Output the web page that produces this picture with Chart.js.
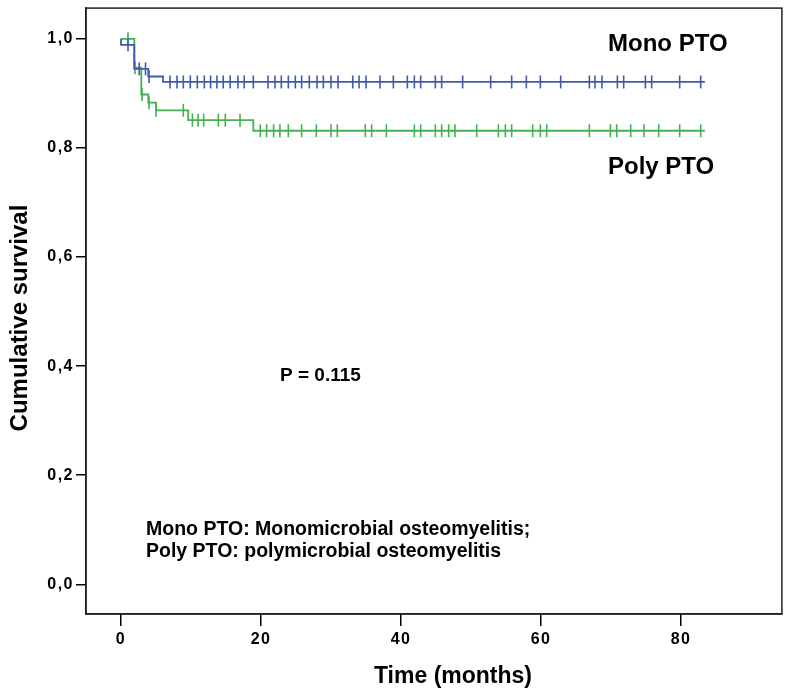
<!DOCTYPE html>
<html>
<head>
<meta charset="utf-8">
<script src="https://cdn.jsdelivr.net/npm/chart.js@4.4.1/dist/chart.umd.min.js"></script>
<style>
  html, body { margin: 0; padding: 0; background: #ffffff; }
  #wrap { width: 790px; height: 695px; }
</style>
</head>
<body>
<div id="wrap"><canvas id="c" width="790" height="695"></canvas></div>
<script>
// ---- data ----
const monoEventTimes = [0, 0, 1.9, 3.9, 6.0, 83.4];
const monoSurvival   = [1.0, 0.989, 0.945, 0.931, 0.921, 0.921];
const monoCensorTimes = [1.0, 2.6, 3.5, 4.0, 7, 8, 8.9, 9.9, 10.9, 11.9, 12.8, 13.7, 14.6, 15.6, 16.7, 17.6, 18.9,
  21, 22, 22.9, 23.9, 24.9, 25.8, 26.9, 28.0, 28.9, 30.0, 31.0, 33.1, 34.0, 35.0, 37.0, 38.9, 40.9, 41.9, 42.8,
  44.9, 45.8, 48.8, 52.8, 55.8, 57.9, 59.9, 62.8, 66.9, 67.7, 68.7, 70.9, 71.8, 74.9, 75.8, 79.8, 82.8];

const polyEventTimes = [0, 1.9, 2.9, 3.9, 5.0, 9.6, 18.9, 83.4];
const polySurvival   = [1.0, 0.947, 0.898, 0.883, 0.869, 0.851, 0.8315, 0.8315];
const polyCensorTimes = [1.0, 2.0, 3.0, 4.0, 5.0, 8.9, 10.2, 11.0, 11.8, 13.9, 14.9, 17.0, 19.9, 20.8, 21.8, 22.7,
  23.9, 25.8, 27.9, 30.0, 30.9, 34.9, 35.8, 37.9, 41.9, 42.8, 44.9, 45.8, 46.8, 47.7, 50.8, 53.9, 54.9, 55.8,
  58.8, 59.9, 60.8, 66.9, 69.9, 70.8, 72.8, 74.7, 76.8, 79.8, 82.8];

const xTickValues = [0, 20, 40, 60, 80];
const yTickValues = [0, 0.2, 0.4, 0.6, 0.8, 1.0];

const seriesLabels = ["Mono PTO", "Poly PTO"];
const pValueText = "P = 0.115";
const footnoteLines = ["Mono PTO: Monomicrobial osteomyelitis;", "Poly PTO: polymicrobial osteomyelitis"];
const xTitle = "Time (months)";
const yTitle = "Cumulative survival";

// ---- build datasets ----
const FONT = "'Liberation Sans', Arial, Helvetica, sans-serif";
const BLUE = '#3f5cab';
const GREEN = '#45b04f';

function stepPoints(times, surv) {
  return times.map((t, i) => ({ x: t, y: surv[i] }));
}
function levelAt(times, surv, t) {
  let v = surv[0];
  for (let i = 0; i < times.length; i++) { if (times[i] <= t) v = surv[i]; }
  return v;
}
function censorPoints(ctimes, times, surv) {
  return ctimes.map(t => ({ x: t, y: levelAt(times, surv, t) }));
}

const lineCommon = { stepped: 'before', borderWidth: 1.8, pointRadius: 0, fill: false, tension: 0 };
const censorCommon = { showLine: false, pointStyle: 'line', rotation: 90, pointRadius: 6.5, pointHoverRadius: 6.5, pointBorderWidth: 1.6 };

const annot = {
  id: 'annot',
  beforeDraw(chart) {
    chart.ctx.letterSpacing = '1.5px';
  },
  beforeDatasetsDraw(chart) {
    chart.ctx.letterSpacing = '0px';
  },
  afterDraw(chart) {
    const ctx = chart.ctx;
    const a = chart.chartArea;
    ctx.save();
    ctx.letterSpacing = '0px';
    ctx.strokeStyle = '#222';
    ctx.lineWidth = 1.5;
    ctx.strokeRect(a.left, a.top, a.right - a.left, a.bottom - a.top);
    ctx.fillStyle = '#000';
    ctx.textBaseline = 'alphabetic';
    ctx.textAlign = 'left';
    ctx.font = 'bold 24px ' + FONT;
    ctx.fillText(seriesLabels[0], 608, 51);
    ctx.fillText(seriesLabels[1], 608, 174);
    ctx.font = 'bold 19px ' + FONT;
    ctx.fillText(pValueText, 280, 381);
    ctx.font = 'bold 19.5px ' + FONT;
    ctx.fillText(footnoteLines[0], 146, 535);
    ctx.fillText(footnoteLines[1], 146, 557);
    // axis titles
    ctx.font = 'bold 23px ' + FONT;
    ctx.textAlign = 'center';
    ctx.textBaseline = 'middle';
    ctx.fillText(xTitle, 453, 677);
    ctx.translate(20, 318);
    ctx.rotate(-Math.PI / 2);
    ctx.font = 'bold 24px ' + FONT;
    ctx.fillText(yTitle, 0, 0);
    ctx.restore();
  }
};

new Chart(document.getElementById('c'), {
  type: 'line',
  data: {
    datasets: [
      Object.assign({ label: seriesLabels[0], data: stepPoints(monoEventTimes, monoSurvival), borderColor: BLUE }, lineCommon),
      Object.assign({ label: seriesLabels[0] + ' censored', type: 'scatter', data: censorPoints(monoCensorTimes, monoEventTimes, monoSurvival), borderColor: BLUE, backgroundColor: BLUE }, censorCommon),
      Object.assign({ label: seriesLabels[1], data: stepPoints(polyEventTimes, polySurvival), borderColor: GREEN }, lineCommon),
      Object.assign({ label: seriesLabels[1] + ' censored', type: 'scatter', data: censorPoints(polyCensorTimes, polyEventTimes, polySurvival), borderColor: GREEN, backgroundColor: GREEN }, censorCommon)
    ]
  },
  options: {
    responsive: false,
    animation: false,
    devicePixelRatio: 1,
    layout: { padding: { top: 3, right: 8, left: 0, bottom: 0 } },
    plugins: { legend: { display: false }, tooltip: { enabled: false } },
    scales: {
      x: {
        type: 'linear', min: -5, max: 94.4,
        afterBuildTicks(s) { s.ticks = xTickValues.map(v => ({ value: v })); },
        afterFit(s) { s.height = 81; s.paddingLeft = 0; s.paddingRight = 0; },
        grid: { drawOnChartArea: false, drawTicks: true, tickLength: 12, color: '#000', lineWidth: 1.5 },
        border: { display: true, color: '#222', width: 1.5 },
        ticks: { color: '#000', font: { family: FONT, size: 16, weight: 'bold' }, padding: 4, maxRotation: 0,
                 callback: v => String(v) },
        title: { display: false, text: xTitle }
      },
      y: {
        type: 'linear', min: -0.0545, max: 1.0564,
        afterBuildTicks(s) { s.ticks = yTickValues.map(v => ({ value: v })); },
        afterFit(s) { s.width = 86; s.paddingTop = 0; s.paddingBottom = 0; },
        grid: { drawOnChartArea: false, drawTicks: true, tickLength: 10, color: '#000', lineWidth: 1.5 },
        border: { display: true, color: '#222', width: 1.5 },
        ticks: { color: '#000', font: { family: FONT, size: 16, weight: 'bold' }, padding: 2,
                 callback: v => v.toFixed(1).replace('.', ',') },
        title: { display: false, text: yTitle }
      }
    }
  },
  plugins: [annot]
});
</script>
</body>
</html>
